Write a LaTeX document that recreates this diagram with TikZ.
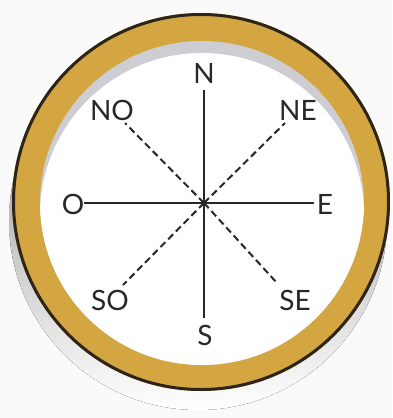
\documentclass[tikz,border=0pt]{standalone}
\usepackage{fontspec}
\setmainfont{Lato}
\definecolor{gold}{RGB}{212,166,66}
\definecolor{rimline}{RGB}{45,36,26}
\definecolor{shade}{RGB}{192,192,200}
\definecolor{ink}{RGB}{40,40,40}
\definecolor{paper}{RGB}{250,250,250}
\tikzset{
  lbl/.style={font=\fontsize{28}{28}\selectfont, text=ink, inner sep=0pt},
  axis/.style={draw=ink, line width=2pt},
  diag/.style={draw=ink, line width=2pt, dash pattern=on 7pt off 4pt},
}
\begin{document}
\begin{tikzpicture}[x=1pt,y=-1pt]
\useasboundingbox (0,0) rectangle (392,418);
\fill[paper] (0,0) rectangle (392,418);
% drop shadow
\fill[shade] (198,221) circle (189);
% gold ring with dark rim
\fill[gold] (201,202) circle (189);
\draw[rimline, line width=3pt] (201,202) circle (187.5);
% face with inner shadow at top
\begin{scope}
  \clip (202,203) circle (162);
  \fill[shade!80!white] (202,203) circle (162);
  \fill[white] (202,215) circle (162);
\end{scope}
% compass
\coordinate (c) at (204,203);
\node[lbl] (N) at (204,73) {N};
\node[lbl] (S) at (205,335) {S};
\node[lbl] (O) at (73,204) {O};
\node[lbl] (E) at (325,204) {E};
\node[lbl] (NO) at (112,110) {NO};
\node[lbl] (NE) at (298,110) {NE};
\node[lbl] (SO) at (110,300) {SO};
\node[lbl] (SE) at (295,300) {SE};
\coordinate (nEnd) at (204,90);
\coordinate (sEnd) at (204,318);
\coordinate (oEnd) at (84,203);
\coordinate (eEnd) at (314,203);
\coordinate (noEnd) at (125,123);
\coordinate (neEnd) at (285,123);
\coordinate (soEnd) at (123,285);
\coordinate (seEnd) at (277,283);
\draw[axis] (nEnd) -- (c) -- (sEnd);
\draw[axis] (oEnd) -- (c) -- (eEnd);
\draw[diag] (c) -- (noEnd);
\draw[diag] (c) -- (neEnd);
\draw[diag] (c) -- (soEnd);
\draw[diag] (c) -- (seEnd);
\fill[ink] (c) circle (3);
\end{tikzpicture}
\end{document}
